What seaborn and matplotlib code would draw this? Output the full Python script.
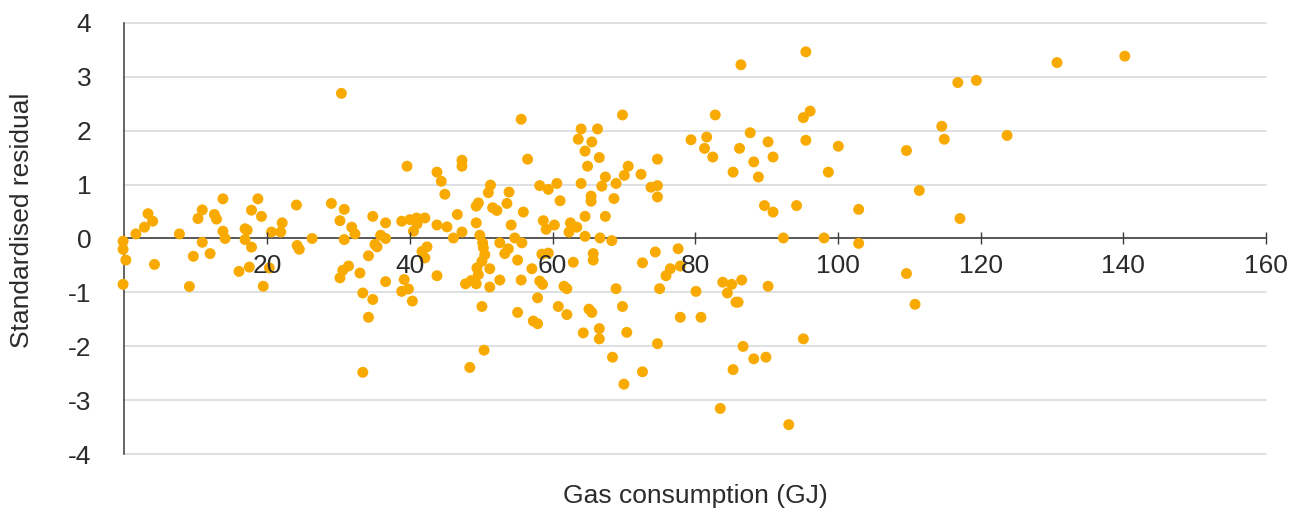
import matplotlib
matplotlib.use("Agg")
import matplotlib.pyplot as plt
import seaborn as sns
import pandas as pd

# Gas consumption (GJ) and standardised residual for each household
gas_gj = [
    -0.2, -0.2, 0.2, -0.2, 1.6, 2.8, 3.3, 3.95, 4.2, 7.7,
    9.1, 9.65, 10.3, 10.9, 10.9, 12.0, 12.6, 12.9, 13.8, 13.8,
    14.1, 16.05, 16.9, 17.2, 16.9, 17.5, 17.8, 17.8, 18.7, 19.2,
    19.45, 20.3, 20.6, 21.9, 22.1, 24.1, 24.2, 24.5, 26.3,
    29.0, 30.4, 30.8, 30.2, 30.8, 30.2, 30.6, 31.4, 31.85, 32.3,
    33.0, 33.4, 33.4, 34.2, 34.2, 34.8, 34.8, 35.1, 35.4, 35.9,
    36.6, 36.6, 36.6, 38.85, 39.2, 38.85, 39.8, 40.35, 39.6, 40.0,
    40.5, 40.95, 42.1, 41.0, 42.4, 42.1, 41.7, 43.8, 43.8, 43.8,
    44.4, 44.9, 45.2, 46.1, 46.65, 47.3, 47.3, 47.3, 47.8, 48.4,
    48.6, 49.3, 49.3, 49.3, 49.6, 49.4, 49.6, 49.8, 50.2, 50.3,
    50.5, 50.1, 50.1, 50.4, 51.0, 51.3, 51.6, 52.2, 51.2, 51.2,
    52.6, 52.6,
    55.6, 56.5, 53.9, 53.6, 55.9, 54.2, 54.7, 55.7, 53.3, 53.8,
    55.1, 55.6, 55.1, 57.1, 57.3, 57.9, 57.9, 58.2, 58.6, 58.2,
    59.4, 60.6, 61.05, 58.7, 59.1, 60.25, 58.5, 59.4, 60.8, 61.6,
    62.0, 62.0, 62.9, 62.5, 62.3, 63.4, 64.0, 64.0, 63.6, 65.5,
    64.55, 64.9, 66.3, 66.55, 65.4, 65.4, 64.55, 64.55, 65.7, 65.7,
    65.1, 65.5, 64.3, 66.55, 66.55, 67.4, 66.9, 67.4, 66.65, 68.6,
    68.9, 68.3, 69.8, 70.05, 70.6, 68.9, 69.8, 68.4, 70.4, 70.0,
    72.4, 72.6, 72.6, 73.8, 74.7, 74.7, 74.7, 74.4, 75.0, 74.7,
    75.9, 76.5, 77.6, 77.9, 77.9, 79.4,
    82.8, 81.6, 81.3, 82.45, 85.3, 86.2, 87.7, 88.2, 88.85, 90.2,
    90.9, 89.7, 90.9, 92.35, 94.2, 95.15, 96.1, 95.5, 98.05, 98.65,
    100.05, 102.9, 102.9, 80.1, 80.8, 83.85, 85.1, 86.5, 84.5, 85.7,
    86.0, 90.2, 85.3, 86.7, 88.2, 89.9, 95.15, 83.5, 93.1, 86.4,
    95.5,
    109.6, 109.6, 110.8, 111.4, 114.55, 114.9, 116.8, 117.1, 119.4, 123.7,
    130.7, 140.2,
]
std_residual = [
    -0.05, -0.2, -0.4, -0.85, 0.085, 0.21, 0.46, 0.32, -0.48, 0.085,
    -0.89, -0.33, 0.37, 0.53, -0.07, -0.28, 0.445, 0.36, 0.735, 0.135,
    0.0, -0.61, 0.18, 0.155, -0.02, -0.53, -0.16, 0.525, 0.735, 0.41,
    -0.885, -0.545, 0.12, 0.12, 0.29, 0.62, -0.13, -0.2, 0.0,
    0.65, 2.69, 0.54, 0.33, -0.02, -0.73, -0.59, -0.51, 0.21, 0.085,
    -0.64, -1.01, -2.48, -0.32, -1.46, 0.41, -1.13, -0.11, -0.155, 0.06,
    0.0, 0.29, -0.8, 0.32, -0.76, -0.98, -0.935, -1.16, 1.34, 0.35,
    0.135, 0.38, 0.38, 0.27, -0.155, -0.36, -0.24, 0.25, -0.69, 1.23,
    1.06, 0.82, 0.215, 0.01, 0.445, 1.45, 1.34, 0.12, -0.84, -2.39,
    -0.78, -0.84, 0.29, 0.6, 0.66, -0.545, -0.67, 0.06, -0.08, -0.17,
    -0.3, -0.42, -1.26, -2.07, 0.85, 0.99, 0.57, 0.52, -0.56, -0.9,
    -0.08, -0.77,
    2.21, 1.47, 0.86, 0.65, 0.49, 0.25, 0.01, -0.08, -0.28, -0.19,
    -0.4, -0.77, -1.37, -0.56, -1.53, -1.58, -1.1, -0.79, -0.85, 0.98,
    0.91, 1.02, 0.7, 0.33, 0.17, 0.25, -0.29, -0.27, -1.26, -0.885,
    -0.93, -1.41, -0.44, 0.29, 0.12, 0.21, 1.02, 2.03, 1.84, 1.79,
    1.62, 1.34, 2.03, 1.5, 0.785, 0.69, 0.41, 0.04, -0.28, -0.4,
    -1.31, -1.37, -1.75, -1.67, -1.86, 1.14, 0.97, 0.41, 0.01, 0.74,
    1.02, -0.04, 2.29, 1.17, 1.34, -0.93, -1.26, -2.2, -1.74, -2.7,
    1.19, -0.45, -2.47, 0.95, 0.98, 0.77, 1.47, -0.25, -0.93, -1.95,
    -0.69, -0.56, -0.19, -0.51, -1.46, 1.83,
    2.29, 1.88, 1.67, 1.51, 1.23, 1.67, 1.96, 1.42, 1.14, 1.79,
    1.51, 0.61, 0.49, 0.01, 0.61, 2.24, 2.36, 1.82, 0.01, 1.23,
    1.71, 0.54, -0.09, -0.98, -1.46, -0.81, -0.85, -0.77, -1.01, -1.18,
    -1.18, -0.885, -2.43, -2.0, -2.23, -2.2, -1.86, -3.15, -3.45, 3.22,
    3.46,
    1.63, -0.65, -1.22, 0.89, 2.08, 1.84, 2.89, 0.37, 2.93, 1.91,
    3.26, 3.38,
]

x_ticks = [20, 40, 60, 80, 100, 120, 140, 160]
y_ticks = [-4, -3, -2, -1, 0, 1, 2, 3, 4]

df = pd.DataFrame({"gas": gas_gj, "resid": std_residual})

sns.set_theme(style="white")
plt.rcParams["font.family"] = ["Liberation Sans", "DejaVu Sans"]
plt.rcParams["axes.unicode_minus"] = False

text_col = "#2b2b2b"
axis_col = "#3c3c3c"
grid_col = "#d8dbdf"
dot_col = "#F8AA00"

fig = plt.figure(figsize=(13.09, 5.13), dpi=100)
ax = fig.add_axes([0.0951, 0.1144, 0.8721, 0.8414])

# horizontal gridlines at each whole residual, the zero line doubles as the x axis
for yv in y_ticks:
    if yv == 0:
        continue
    ax.axhline(yv, color=grid_col, lw=1.2, zorder=0.5, clip_on=False)
ax.axhline(0, color=axis_col, lw=1.2, zorder=1.8)

sns.scatterplot(data=df, x="gas", y="resid", ax=ax, color=dot_col,
                s=62, linewidth=0, edgecolor="none", zorder=2,
                clip_on=False, legend=False)

ax.set_xlim(0, 160)
ax.set_ylim(-4, 4)
ax.set_axisbelow(False)

for side in ["top", "right"]:
    ax.spines[side].set_visible(False)
ax.spines["bottom"].set_position(("data", 0))
ax.spines["bottom"].set_visible(False)
ax.spines["left"].set_color(axis_col)
ax.spines["left"].set_linewidth(1.1)
ax.spines["left"].set_zorder(1.9)

ax.set_xticks(x_ticks)
ax.set_xticklabels([str(t) for t in x_ticks])
ax.set_yticks(y_ticks)
ax.set_yticklabels([str(t) for t in y_ticks])

ax.tick_params(axis="x", bottom=True, direction="inout", length=9, width=1.0,
               color=axis_col, labelsize=19, labelcolor=text_col, pad=7)
ax.tick_params(axis="y", left=False, length=0, labelsize=19,
               labelcolor=text_col, pad=24)
ax.grid(False)

ax.set_xlabel("Gas consumption (GJ)", fontsize=19, color=text_col, va="center")
ax.xaxis.set_label_coords(0.5, -0.097)
ax.set_ylabel("Standardised residual", fontsize=19, color=text_col, va="center")
ax.yaxis.set_label_coords(-0.0895, 0.543)

fig.savefig("out.png", dpi=100, facecolor="white")
